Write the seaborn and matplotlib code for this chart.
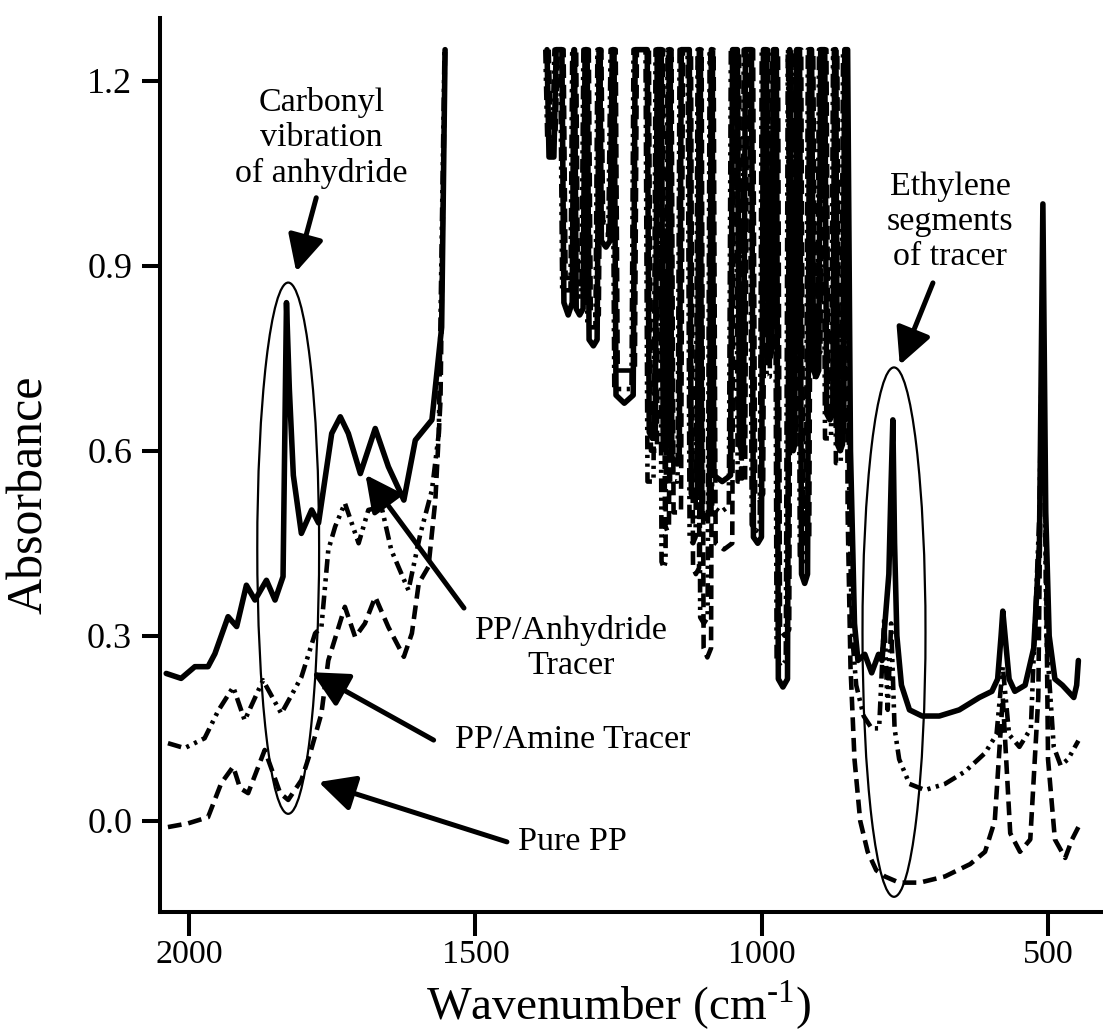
import numpy as np
import pandas as pd
import matplotlib
matplotlib.use("Agg")
import matplotlib.pyplot as plt
from matplotlib.patches import Ellipse
import seaborn as sns

# ---- spectra: (wavenumber cm^-1, absorbance); each series has a high- and a low-wavenumber segment
# (the 1550-1380 cm^-1 stretch is off scale and left blank; strong bands are clipped at 1.25)
anhydride_hi = [(2040, 0.239), (2014, 0.231), (1990, 0.250), (1967, 0.250), (1955, 0.271), (1932, 0.331),
                (1917, 0.315), (1900, 0.382), (1885, 0.358), (1865, 0.390), (1850, 0.358), (1836, 0.396),
                (1830, 0.840), (1825, 0.700), (1818, 0.560), (1804, 0.466), (1786, 0.504), (1774, 0.483),
                (1751, 0.628), (1736, 0.655), (1722, 0.628), (1701, 0.563), (1675, 0.636), (1652, 0.574),
                (1625, 0.520), (1605, 0.617), (1576, 0.650), (1559, 0.800), (1553, 1.25)]
anhydride_lo = [(1375, 1.25), (1371.5, 1.076), (1363, 1.076), (1359, 1.25),
                (1349, 1.25), (1345.5, 0.84), (1338, 0.82), (1331, 0.84), (1328, 1.25),
                (1327, 1.25), (1324, 0.83), (1318, 0.82), (1312, 0.83), (1308.5, 1.25),
                (1305, 1.25), (1301.5, 0.78), (1294, 0.77), (1287.5, 0.78), (1284, 1.25),
                (1283, 1.25), (1280, 0.94), (1272, 0.93), (1265, 0.94), (1261, 1.25),
                (1258, 1.25), (1254.5, 0.69), (1240, 0.677), (1224.5, 0.69), (1221, 1.25),
                (1200, 1.25), (1196.5, 0.63), (1191, 0.62), (1186, 0.63), (1182.5, 1.25),
                (1175.5, 1.25), (1172, 0.61), (1168, 0.60), (1165, 0.61), (1161.5, 1.25),
                (1160.5, 1.25), (1157, 0.59), (1150, 0.58), (1144, 0.59), (1140.5, 1.25),
                (1126.5, 1.25), (1123, 0.53), (1118, 0.52), (1112.5, 0.53), (1109, 1.25),
                (1108, 1.25), (1104.5, 0.50), (1098, 0.49), (1091.5, 0.50), (1088, 1.25),
                (1087, 1.25), (1083.5, 0.56), (1069, 0.55), (1054.5, 0.56), (1051, 1.25),
                (1042.5, 1.25), (1039, 0.61), (1035, 0.60), (1032, 0.61), (1028.5, 1.25),
                (1018, 1.25), (1014.5, 0.46), (1007, 0.45), (1000.5, 0.46), (997, 1.25),
                (992, 1.25), (988.5, 0.76), (986, 0.75), (983, 0.76), (979.5, 1.25),
                (974.5, 1.25), (971, 0.23), (963, 0.217), (955, 0.23), (951.5, 1.25),
                (951, 1.25), (948, 0.61), (945, 0.60), (942.5, 0.61), (939, 1.25),
                (934, 1.25), (930.5, 0.40), (925, 0.385), (920, 0.40), (916.5, 1.25),
                (913, 1.25), (909.5, 0.73), (905, 0.72), (900.5, 0.73), (897, 1.25),
                (890, 1.25), (886.5, 0.66), (881, 0.65), (876, 0.66), (872.5, 1.25),
                (871, 1.25), (867.5, 0.61), (863, 0.60), (859, 0.61), (855, 1.25),
                (850, 1.25), (845, 0.60), (838, 0.32), (832, 0.26),
                (820, 0.27), (808, 0.24), (796, 0.27), (790, 0.26), (784, 0.33), (778, 0.40),
                (774, 0.55), (771, 0.65), (768, 0.45), (764, 0.30), (756, 0.22), (742, 0.18),
                (720, 0.17), (690, 0.17), (655, 0.18), (620, 0.20), (598, 0.21), (588, 0.23),
                (582, 0.30), (579, 0.34), (575, 0.30), (568, 0.23), (558, 0.21), (540, 0.22),
                (525, 0.28), (515, 0.45), (509, 1.00), (504, 0.50), (498, 0.30), (488, 0.23),
                (475, 0.22), (465, 0.21), (455, 0.20), (450, 0.22), (447, 0.26)]

amine_hi = [(2037, 0.126), (2008, 0.118), (1973, 0.134), (1949, 0.179), (1923, 0.217), (1903, 0.163),
            (1871, 0.228), (1839, 0.174), (1804, 0.233), (1780, 0.304), (1769, 0.314), (1757, 0.439),
            (1745, 0.477), (1728, 0.515), (1704, 0.450), (1687, 0.504), (1664, 0.509), (1647, 0.439),
            (1617, 0.374), (1596, 0.466), (1576, 0.536), (1564, 0.628), (1554, 1.25)]
amine_lo = [(1378, 1.25), (1374.5, 1.10), (1366, 1.10), (1362, 1.25),
            (1352, 1.25), (1348.5, 0.86), (1334, 0.86), (1331, 1.25),
            (1330, 1.25), (1327, 0.85), (1315, 0.85), (1311.5, 1.25),
            (1308, 1.25), (1304.5, 0.80), (1290.5, 0.80), (1287, 1.25),
            (1286, 1.25), (1283, 0.95), (1268, 0.95), (1264, 1.25),
            (1261, 1.25), (1257.5, 0.70), (1227.5, 0.70), (1224, 1.25),
            (1203, 1.25), (1199.5, 0.55), (1189, 0.55), (1185.5, 1.25),
            (1178.5, 1.25), (1175, 0.42), (1171, 0.41), (1168, 0.42), (1164.5, 1.25),
            (1163.5, 1.25), (1160, 0.55), (1147, 0.55), (1143.5, 1.25),
            (1129.5, 1.25), (1126, 0.46), (1120, 0.45), (1115.5, 0.46), (1112, 1.25),
            (1111, 1.25), (1107.5, 0.33), (1101, 0.32), (1094.5, 0.33), (1091, 1.25),
            (1090, 1.25), (1086.5, 0.51), (1072, 0.50), (1057.5, 0.51), (1054, 1.25),
            (1045.5, 1.25), (1042, 0.55), (1035, 0.55), (1031.5, 1.25),
            (1021, 1.25), (1017.5, 0.48), (1010, 0.47), (1003.5, 0.48), (1000, 1.25),
            (995, 1.25), (991.5, 0.72), (986, 0.72), (982.5, 1.25),
            (977.5, 1.25), (974, 0.26), (966, 0.25), (958, 0.26), (954.5, 1.25),
            (954, 1.25), (951, 0.60), (945.5, 0.60), (942, 1.25),
            (937, 1.25), (933.5, 0.43), (928, 0.42), (923, 0.43), (919.5, 1.25),
            (916, 1.25), (912.5, 0.72), (903.5, 0.72), (900, 1.25),
            (893, 1.25), (889.5, 0.62), (879, 0.62), (875.5, 1.25),
            (874, 1.25), (870.5, 0.58), (862, 0.58), (858, 1.25),
            (852, 1.25), (847, 0.50), (842, 0.30), (835, 0.22), (822, 0.17), (808, 0.15),
            (795, 0.15), (786, 0.33), (780, 0.18), (774, 0.32), (768, 0.15), (760, 0.10),
            (742, 0.06), (715, 0.05), (680, 0.06), (645, 0.08), (610, 0.11), (590, 0.14),
            (579, 0.25), (568, 0.14), (550, 0.12), (530, 0.15), (515, 0.50), (509, 0.88),
            (503, 0.30), (490, 0.12), (478, 0.09), (465, 0.10), (447, 0.13)]

pure_pp_hi = [(2037, -0.010), (2002, -0.004), (1967, 0.006), (1944, 0.061), (1923, 0.088), (1911, 0.053),
              (1897, 0.045), (1868, 0.115), (1841, 0.045), (1827, 0.034), (1804, 0.066), (1787, 0.115),
              (1769, 0.174), (1757, 0.260), (1739, 0.314), (1728, 0.347), (1710, 0.298), (1693, 0.320),
              (1675, 0.363), (1652, 0.314), (1625, 0.266), (1611, 0.304), (1599, 0.385), (1582, 0.412),
              (1570, 0.520), (1561, 0.682), (1553, 1.25)]
pure_pp_lo = [(1372, 1.25), (1368.5, 1.12), (1360, 1.12), (1356, 1.25),
              (1346, 1.25), (1342.5, 0.88), (1328, 0.88), (1325, 1.25),
              (1324, 1.25), (1321, 0.87), (1309, 0.87), (1305.5, 1.25),
              (1302, 1.25), (1298.5, 0.82), (1284.5, 0.82), (1281, 1.25),
              (1280, 1.25), (1277, 0.97), (1262, 0.97), (1258, 1.25),
              (1255, 1.25), (1251.5, 0.73), (1221.5, 0.73), (1218, 1.25),
              (1197, 1.25), (1193.5, 0.60), (1183, 0.60), (1179.5, 1.25),
              (1172.5, 1.25), (1169, 0.48), (1165, 0.47), (1162, 0.48), (1158.5, 1.25),
              (1157.5, 1.25), (1154, 0.50), (1141, 0.50), (1137.5, 1.25),
              (1123.5, 1.25), (1120, 0.41), (1115, 0.40), (1109.5, 0.41), (1106, 1.25),
              (1105, 1.25), (1101.5, 0.28), (1095, 0.265), (1088.5, 0.28), (1085, 1.25),
              (1084, 1.25), (1080.5, 0.45), (1066, 0.44), (1051.5, 0.45), (1048, 1.25),
              (1039.5, 1.25), (1036, 0.55), (1029, 0.55), (1025.5, 1.25),
              (1015, 1.25), (1011.5, 0.53), (1004, 0.52), (997.5, 0.53), (994, 1.25),
              (989, 1.25), (985.5, 0.76), (980, 0.76), (976.5, 1.25),
              (971.5, 1.25), (968, 0.31), (960, 0.30), (952, 0.31), (948.5, 1.25),
              (948, 1.25), (945, 0.62), (939.5, 0.62), (936, 1.25),
              (931, 1.25), (927.5, 0.46), (922, 0.45), (917, 0.46), (913.5, 1.25),
              (910, 1.25), (906.5, 0.76), (897.5, 0.76), (894, 1.25),
              (887, 1.25), (883.5, 0.70), (873, 0.70), (869.5, 1.25),
              (868, 1.25), (864.5, 0.62), (856, 0.62), (853, 1.25),
              (850, 0.50), (845, 0.25), (838, 0.10), (828, 0.00), (815, -0.05),
              (800, -0.08), (785, -0.09), (760, -0.10), (724, -0.10), (680, -0.09), (636, -0.07),
              (610, -0.05), (593, 0.00), (579, 0.20), (566, -0.02), (549, -0.05), (531, -0.03),
              (517, 0.20), (509, 0.90), (500, 0.10), (488, -0.03), (470, -0.06), (458, -0.03),
              (447, -0.01)]

x_ticks = [2000, 1500, 1000, 500]
y_ticks = [0.0, 0.3, 0.6, 0.9, 1.2]


def to_frame(name, *segments):
    rows = []
    for k, seg in enumerate(segments):
        for wn, ab in seg:
            rows.append({"sample": name, "segment": k, "wavenumber": wn, "absorbance": ab})
    return pd.DataFrame(rows)


df_anh = to_frame("PP/Anhydride Tracer", anhydride_hi, anhydride_lo)
df_ami = to_frame("PP/Amine Tracer", amine_hi, amine_lo)
df_pp = to_frame("Pure PP", pure_pp_hi, pure_pp_lo)

sns.set_style("ticks")
serif = "Liberation Serif"
plt.rcParams["font.family"] = [serif, "DejaVu Serif"]
plt.rcParams["mathtext.fontset"] = "custom"
plt.rcParams["mathtext.rm"] = serif
for key in ("text.color", "axes.labelcolor", "xtick.color", "ytick.color", "axes.edgecolor"):
    plt.rcParams[key] = "black"

fig = plt.figure(figsize=(11.03, 10.34), dpi=100)
ax = fig.add_axes([0.145, 0.118, 0.855, 0.865])

common = dict(x="wavenumber", y="absorbance", units="segment", estimator=None, sort=False,
              color="black", ax=ax, legend=False)
sns.lineplot(data=df_pp, linewidth=3.3, linestyle=(0, (3.0, 1.5)), zorder=2, **common)
sns.lineplot(data=df_ami, linewidth=3.3, linestyle=(0, (3.0, 1.2, 0.7, 1.2, 0.7, 1.2)), zorder=3, **common)
sns.lineplot(data=df_anh, linewidth=4.0, linestyle="-", zorder=4, **common)

ax.set_xlim(2051, 404)
ax.set_ylim(-0.1476, 1.302)
ax.set_xticks(x_ticks)
ax.set_xticklabels([str(t) for t in x_ticks])
ax.set_yticks(y_ticks)
ax.set_yticklabels([f"{t:.1f}" for t in y_ticks])

sns.despine(ax=ax)
for side in ("left", "bottom"):
    ax.spines[side].set_linewidth(2.9)
ax.tick_params(axis="x", length=17, width=2.9, pad=3, labelsize=24.5, direction="out")
ax.tick_params(axis="y", length=13, width=2.9, pad=7, labelsize=26, direction="out")

ax.set_xlabel("Wavenumber (cm$^{\\mathregular{\u2010}1}$)", fontsize=34, va="center")
ax.xaxis.set_label_coords(0.486, -0.1045)
ax.set_ylabel("Absorbance", fontsize=36, va="center")
ax.yaxis.set_label_coords(-0.138, 0.466)

# highlighted bands
for cx, cy, w, h in [(1827, 0.442, 108, 0.861), (769, 0.306, 110, 0.858)]:
    ax.add_patch(Ellipse((cx, cy), w, h, fill=False, lw=1.6, ec="black", zorder=5))

arrow = dict(arrowstyle="-|>,head_length=1.1,head_width=0.55", lw=3.6, color="black",
             shrinkA=0, shrinkB=0, mutation_scale=20)
txt = dict(fontsize=24.5, ha="center", va="center", multialignment="center", linespacing=1.2)

ax.text(1769, 1.107, "Carbonyl\nvibration\nof anhydride", **txt)
ax.annotate("", xy=(1813, 0.890), xytext=(1778, 1.010), arrowprops=arrow)

ax.text(671, 0.971, "Ethylene\nsegments\nof tracer", **txt)
ax.annotate("", xy=(759, 0.739), xytext=(701, 0.872), arrowprops=arrow)

ax.text(1333, 0.280, "PP/Anhydride\nTracer", **txt)
ax.annotate("", xy=(1692, 0.561), xytext=(1520, 0.345), arrowprops=arrow)

ax.text(1331, 0.131, "PP/Amine Tracer", **txt)
ax.annotate("", xy=(1786, 0.241), xytext=(1573, 0.131), arrowprops=arrow)

ax.text(1331, -0.034, "Pure PP", **txt)
ax.annotate("", xy=(1774, 0.063), xytext=(1445, -0.034), arrowprops=arrow)

fig.savefig("out.png", dpi=100)
